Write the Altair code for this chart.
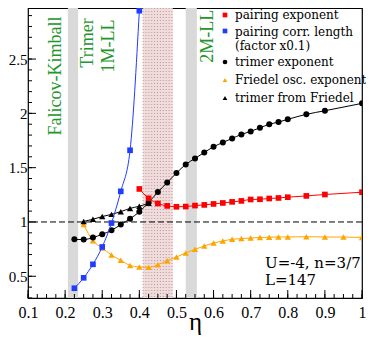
import altair as alt
import pandas as pd

# ---------------- data ----------------
eta_pair = [0.4, 0.425, 0.45, 0.475, 0.5, 0.525, 0.55, 0.575, 0.6, 0.625, 0.65, 0.675,
            0.7, 0.725, 0.75, 0.775, 0.8, 0.85, 0.9, 1.0]
pair_exp = [1.304, 1.218, 1.17, 1.148, 1.14, 1.142, 1.151, 1.157, 1.166, 1.175, 1.185, 1.194,
            1.207, 1.209, 1.216, 1.221, 1.228, 1.24, 1.253, 1.274]

eta_corr = [0.225, 0.25, 0.275, 0.3, 0.325, 0.35, 0.375, 0.4]
corr_len = [0.39, 0.486, 0.61, 0.77, 0.99, 1.282, 1.66, 2.945]

eta_trim = [0.225, 0.25, 0.275, 0.3, 0.325, 0.35, 0.375, 0.4, 0.425, 0.45, 0.475, 0.5,
            0.525, 0.55, 0.575, 0.6, 0.625, 0.65, 0.675, 0.7, 0.725, 0.75, 0.775, 0.8,
            0.85, 0.9, 1.0]
trim_exp = [0.84, 0.838, 0.856, 0.887, 0.923, 0.976, 1.03, 1.093, 1.18, 1.275, 1.363, 1.45,
            1.53, 1.585, 1.64, 1.692, 1.732, 1.769, 1.806, 1.834, 1.867, 1.899, 1.92, 1.945,
            1.991, 2.024, 2.092]

eta_fr = [0.25, 0.275, 0.3, 0.325, 0.35, 0.375, 0.4, 0.425, 0.45, 0.475, 0.5, 0.525,
          0.55, 0.575, 0.6, 0.625, 0.65, 0.675, 0.7, 0.725, 0.75, 0.775, 0.8,
          0.85, 0.9, 0.95, 1.0]
fr_exp = [0.976, 0.828, 0.76, 0.696, 0.647, 0.6, 0.585, 0.582, 0.607, 0.644, 0.677, 0.715,
          0.748, 0.779, 0.806, 0.825, 0.84, 0.847, 0.852, 0.857, 0.86, 0.862, 0.862,
          0.864, 0.862, 0.861, 0.858]

eta_tf = [0.25, 0.275, 0.3, 0.325, 0.35, 0.375, 0.4, 0.425]
tf_val = [1.005, 1.025, 1.05, 1.07, 1.095, 1.125, 1.145, 1.172]

gray_lo = [0.2075, 0.525]
gray_hi = [0.235, 0.555]
hatch_lo = [0.41]
hatch_hi = [0.49]

x_major = [0.1, 0.2, 0.3, 0.4, 0.5, 0.6, 0.7, 0.8, 0.9, 1.0]
x_minor = [round(0.1 + 0.025 * i, 3) for i in range(37)]
y_major = [0.5, 1.0, 1.5, 2.0, 2.5]
y_minor = [round(0.3 + 0.1 * i, 2) for i in range(27)]

legend_labels = ["pairing exponent", "pairing corr. length", "(factor x0.1)",
                 "trimer exponent", "Friedel osc. exponent", "trimer from Friedel"]
regime_labels = ["Falicov-Kimball", "Trimer", "1M-LL", "2M-LL"]
regime_eta = [0.1743, 0.2625, 0.317, 0.585]
regime_v = [2.344, 2.648, 2.62, 2.71]
info_labels = ["U=-4, n=3/7", "L=147"]

# ---------------- styling ----------------
W, H = 334, 290
SERIF = "Liberation Serif"
LSERIF = "DejaVu Serif"
GREEN = "#22962a"
RED = "#ff0000"
BLUE = "#1f3cff"
ORANGE = "#ffa500"

xs = alt.Scale(domain=[0.1, 1.0], nice=False, zero=False)
ys = alt.Scale(domain=[0.3, 2.97], nice=False, zero=False)
x_axis = alt.Axis(values=x_major, format="~g", title="η", titleFont=SERIF, titleFontSize=25,
                  titleFontWeight="normal", titleColor="black", titlePadding=-11,
                  labelFont=SERIF, labelFontSize=16, labelColor="black", labelPadding=6,
                  ticks=False, domain=False, grid=False, labelFlush=False, labelOverlap=False)
y_axis = alt.Axis(values=y_major, format="~g", title=None, labelFont=SERIF, labelFontSize=15,
                  labelColor="black", labelPadding=1, ticks=False, domain=False, grid=False,
                  labelOverlap=False)
X = alt.X("eta:Q", scale=xs, axis=x_axis)
Y = alt.Y("v:Q", scale=ys, axis=y_axis)

layers = []

# gray regime bands
bands = pd.DataFrame({"eta": gray_lo, "eta2": gray_hi})
layers.append(alt.Chart(bands).mark_rect(color="#d9d9d9").encode(
    x=X, x2="eta2:Q", y=alt.value(0), y2=alt.value(H)))

# hatched region
hatch = pd.DataFrame({"eta": hatch_lo, "eta2": hatch_hi})
layers.append(alt.Chart(hatch).mark_rect(color="#efdcdc").encode(
    x=X, x2="eta2:Q", y=alt.value(0), y2=alt.value(H)))
hl = [hatch_lo[0] + 0.0078 * i for i in range(11)]
layers.append(alt.Chart(pd.DataFrame({"eta": hl})).mark_rule(
    color="#c49595", strokeWidth=1, strokeDash=[1, 2]).encode(
    x=X, y=alt.value(0), y2=alt.value(H)))

# dashed line at 1
layers.append(alt.Chart(pd.DataFrame({"v": [1.0]})).mark_rule(
    color="black", strokeWidth=1, strokeDash=[6, 3]).encode(y=Y))

# inward ticks
layers.append(alt.Chart(pd.DataFrame({"eta": x_minor})).mark_rule(color="black", strokeWidth=1)
              .encode(x=X, y=alt.value(H), y2=alt.value(H - 4)))
layers.append(alt.Chart(pd.DataFrame({"eta": x_major})).mark_rule(color="black", strokeWidth=1)
              .encode(x=X, y=alt.value(H), y2=alt.value(H - 8)))
layers.append(alt.Chart(pd.DataFrame({"v": y_minor})).mark_rule(color="black", strokeWidth=1)
              .encode(y=Y, x=alt.value(0), x2=alt.value(4)))
layers.append(alt.Chart(pd.DataFrame({"v": y_major})).mark_rule(color="black", strokeWidth=1)
              .encode(y=Y, x=alt.value(0), x2=alt.value(8)))


def series(xv, yv, color, shape, size):
    d = pd.DataFrame({"eta": xv, "v": yv})
    base = alt.Chart(d).encode(x=X, y=Y)
    return [base.mark_line(color=color, strokeWidth=1, interpolate="monotone", clip=True),
            base.mark_point(shape=shape, filled=True, color=color, size=size, opacity=1, clip=True)]


layers += series(eta_fr, fr_exp, ORANGE, "triangle-up", 40)
layers += series(eta_tf, tf_val, "black", "triangle-up", 40)
layers += series(eta_trim, trim_exp, "black", "circle", 36)
layers += series(eta_pair, pair_exp, RED, "square", 32)
layers += series(eta_corr, corr_len, BLUE, "square", 32)

# regime labels
reg = pd.DataFrame({"eta": regime_eta, "v": regime_v, "t": regime_labels})
layers.append(alt.Chart(reg).mark_text(font=SERIF, fontSize=18, color=GREEN, angle=270,
                                       align="center", baseline="middle")
              .encode(x=X, y=Y, text="t:N"))

# legend (manual)
LX = 197
sym = [(RED, "square", 7), (BLUE, "square", 23), ("black", "circle", 54),
       (ORANGE, "triangle-up", 72), ("black", "triangle-up", 90)]
for (c, s, py) in sym:
    layers.append(alt.Chart(pd.DataFrame({"t": [0]})).mark_point(
        shape=s, filled=True, color=c, size=22, opacity=1).encode(
        x=alt.value(LX), y=alt.value(py)))
text_y = [7, 24, 37.5, 54, 72, 90]
for lab, ty in zip(legend_labels, text_y):
    layers.append(alt.Chart(pd.DataFrame({"t": [lab]})).mark_text(
        font=LSERIF, fontSize=12, color="black", align="left", baseline="middle").encode(
        x=alt.value(LX + 10), y=alt.value(ty), text="t:N"))

for lab, ty in zip(info_labels, [255, 272]):
    layers.append(alt.Chart(pd.DataFrame({"t": [lab]})).mark_text(
        font=LSERIF, fontSize=15, color="black", align="left", baseline="middle").encode(
        x=alt.value(237), y=alt.value(ty), text="t:N"))

chart = alt.layer(*layers).properties(
    width=W, height=H,
    autosize=alt.AutoSizeParams(type="none"),
    padding={"left": 20, "top": 0, "right": 4, "bottom": 38},
).configure_view(stroke="black", strokeWidth=1.2)

chart.save("out.html", embed_options={"renderer": "svg", "actions": False})
